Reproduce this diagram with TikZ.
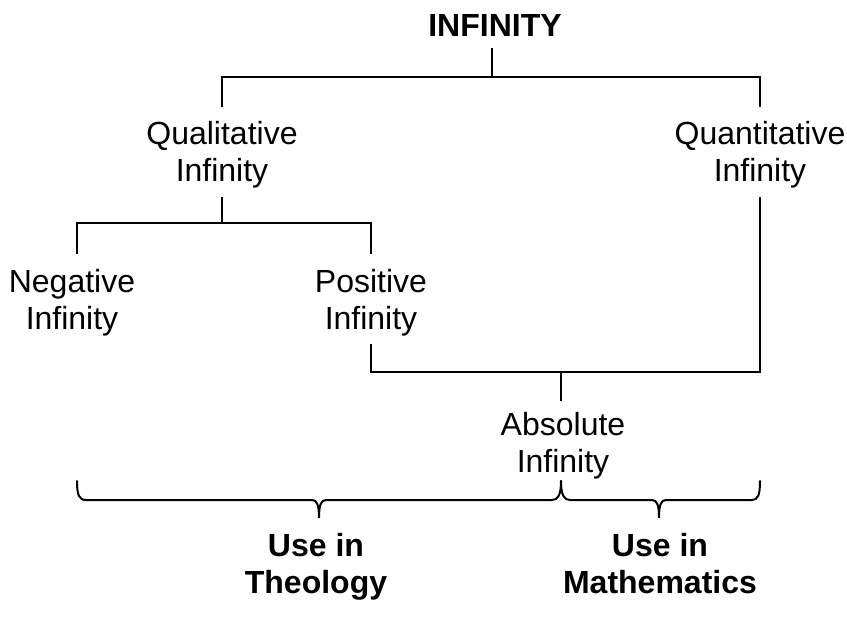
\documentclass[tikz,border=0pt]{standalone}
\usepackage{fontspec}
\setmainfont{Liberation Sans}
\usetikzlibrary{calc}
\begin{document}
\begin{tikzpicture}[x=1pt,y=-1pt,
  lbl/.style={inner sep=0pt, outer sep=0pt, anchor=north, align=center, font=\fontsize{32}{37}\selectfont},
  bld/.style={lbl, font=\fontsize{32}{37}\selectfont\bfseries},
  tree/.style={line width=1.5pt, line join=miter},
  brace/.style={line width=2pt, line cap=round}]
\useasboundingbox (0,0) rectangle (847,623);
% nodes (north = first baseline - 25.9)
\node[bld] (inf) at (495,11.1) {INFINITY\strut};
\node[lbl] (qual) at (222,119.1) {Qualitative\strut\\Infinity\strut};
\node[lbl] (quant) at (760,119.1) {Quantitative\strut\\Infinity\strut};
\node[lbl] (neg) at (72,266.1) {Negative\strut\\Infinity\strut};
\node[lbl] (pos) at (371,266.1) {Positive\strut\\Infinity\strut};
\node[lbl] (abs) at (563,409.1) {Absolute\strut\\Infinity\strut};
\node[bld] (theo) at (316,530.1) {Use in\strut\\Theology\strut};
\node[bld] (math) at (660,530.1) {Use in\strut\\Mathematics\strut};
% junctions
\coordinate (j1) at (492,77);
\coordinate (j2) at (222,223);
\coordinate (j3) at (561,372);
\coordinate (nl) at (77,254);
\coordinate (pl) at (371,254);
% tree connectors
\draw[tree] (j1 |- inf.south) -- (j1);
\draw[tree] ($(qual.north)+(0,-12)$) |- (j1) -| ($(quant.north)+(0,-12)$);
\draw[tree] ($(qual.south)+(0,4)$) -- (j2);
\draw[tree] (nl) |- (j2) -| (pl);
\draw[tree] ($(pos.south)+(0,4)$) |- (j3) -| ($(quant.south)+(0,4)$);
\draw[tree] (j3) -- ($(j3 |- abs.north)+(0,-8)$);
% braces
\coordinate (bl) at (77,481);
\coordinate (bm) at (561,481);
\coordinate (br) at (760,481);
\coordinate (tl) at (319,518);
\coordinate (tr) at (659,518);
\draw[brace] (bl) .. controls (77,495) and (79,500) .. (86,500) -- (312,500)
  .. controls (317,500) and (319,505) .. (tl)
  .. controls (319,505) and (321,500) .. (326,500) -- (552,500)
  .. controls (558,500) and (561,495) .. (bm);
\draw[brace] (bm) .. controls (561,495) and (564,500) .. (570,500) -- (652,500)
  .. controls (657,500) and (659,505) .. (tr)
  .. controls (659,505) and (661,500) .. (666,500) -- (752,500)
  .. controls (758,500) and (760,495) .. (br);
\end{tikzpicture}
\end{document}
